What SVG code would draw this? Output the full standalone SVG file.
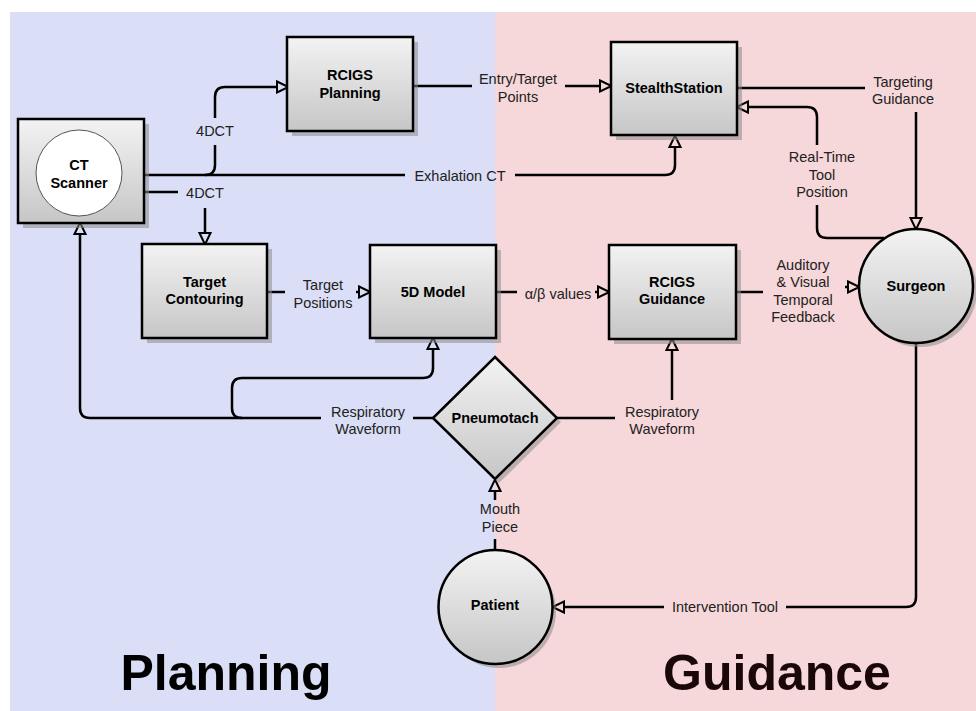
<svg xmlns="http://www.w3.org/2000/svg" width="976" height="711" viewBox="0 0 976 711">
<defs>
<linearGradient id="g" x1="0" y1="0" x2="0" y2="1">
<stop offset="0" stop-color="#f3f3f3"/>
<stop offset="1" stop-color="#c6c6c6"/>
</linearGradient>
<marker id="ah" markerUnits="userSpaceOnUse" markerWidth="15" markerHeight="14" viewBox="0 0 15 14" refX="1" refY="7" orient="auto">
<path d="M1,1.5 L12.5,7 L1,12.5 Z" fill="none" stroke="#000" stroke-width="2"/>
</marker>
</defs>
<style>
.box{fill:url(#g);stroke:#000;stroke-width:2.5}
.sh{fill:#8c8c8c;opacity:0.55}
.nt{font-family:"Liberation Sans",Arial,sans-serif;font-size:14.5px;font-weight:bold;fill:#000;text-anchor:middle}
.lt{font-family:"Liberation Sans",Arial,sans-serif;font-size:14.5px;fill:#222;text-anchor:middle}
.big{font-family:"Liberation Sans",Arial,sans-serif;font-size:50px;font-weight:bold;text-anchor:middle}
.c{fill:none;stroke:#000;stroke-width:2.5}
.a{marker-end:url(#ah)}
</style>
<rect x="0" y="0" width="976" height="711" fill="#fff"/>
<rect x="10" y="12" width="485" height="699" fill="#dadef6"/>
<rect x="495" y="12" width="481" height="699" fill="#f6d7da"/>
<text class="big" x="226" y="690" fill="#000">Planning</text>
<text class="big" x="777" y="690" fill="#1a0808">Guidance</text>

<g id="connectors">
<path class="c" d="M144,175 L405,175"/>
<path class="c a" d="M515,175 L665,175 Q675,175 675,165 L675,147"/>
<path class="c" d="M205,175 Q215,175 215,165 L215,145"/>
<path class="c a" d="M215,118 L215,97 Q215,87 225,87 L277,87"/>
<path class="c" d="M144,192 L178,192"/>
<path class="c a" d="M205,208 L205,233"/>
<path class="c" d="M413,86 L472,86"/>
<path class="c a" d="M565,86 L600,86"/>
<path class="c" d="M737,88 L865,88"/>
<path class="c a" d="M916,112 L916,218"/>
<path class="c" d="M884,238 L827,238 Q817,238 817,228 L817,205"/>
<path class="c a" d="M817,145 L817,117 Q817,107 807,107 L748,107"/>
<path class="c" d="M267,292 L285,292"/>
<path class="c a" d="M356,292 L359,292"/>
<path class="c" d="M496,292 L517,292"/>
<path class="c a" d="M595,292 L598,292"/>
<path class="c" d="M736,292 L763,292"/>
<path class="c a" d="M845,287 L848,287"/>
<path class="c" d="M557,418 L615,418"/>
<path class="c a" d="M672,400 L672,350"/>
<path class="c" d="M413,418 L433,418"/>
<path class="c a" d="M321,418 L90,418 Q80,418 80,408 L80,234"/>
<path class="c a" d="M242,418 Q232,418 232,408 L232,388 Q232,378 242,378 L423,378 Q433,378 433,368 L433,349"/>
<path class="c" d="M495,550 L495,539"/>
<path class="c a" d="M495,500 L495,491"/>
<path class="c" d="M916,343 L916,597 Q916,607 906,607 L786,607"/>
<path class="c a" d="M664,607 L564,607"/>
<text class="lt" x="215" y="136">4DCT</text>
<text class="lt" x="205" y="198">4DCT</text>
<text class="lt" x="460" y="181">Exhalation CT</text>
<text class="lt" x="518" y="84">Entry/Target</text>
<text class="lt" x="518" y="102">Points</text>
<text class="lt" x="903" y="87">Targeting</text>
<text class="lt" x="903" y="104">Guidance</text>
<text class="lt" x="822" y="162">Real-Time</text>
<text class="lt" x="822" y="180">Tool</text>
<text class="lt" x="822" y="197">Position</text>
<text class="lt" x="323" y="290">Target</text>
<text class="lt" x="323" y="308">Positions</text>
<text class="lt" x="558" y="299">α/β values</text>
<text class="lt" x="803" y="270">Auditory</text>
<text class="lt" x="803" y="287">&amp; Visual</text>
<text class="lt" x="803" y="305">Temporal</text>
<text class="lt" x="803" y="322">Feedback</text>
<text class="lt" x="662" y="417">Respiratory</text>
<text class="lt" x="662" y="434">Waveform</text>
<text class="lt" x="368" y="417">Respiratory</text>
<text class="lt" x="368" y="434">Waveform</text>
<text class="lt" x="500" y="514">Mouth</text>
<text class="lt" x="500" y="532">Piece</text>
<text class="lt" x="725" y="612">Intervention Tool</text>
</g>

<g id="ct-scanner">
<rect class="sh" x="23" y="124" width="126" height="104"/>
<rect class="box" x="18" y="119" width="126" height="104"/>
<circle cx="79" cy="173" r="43" fill="#fff" stroke="#555" stroke-width="1"/>
<text class="nt" x="79" y="170">CT</text>
<text class="nt" x="79" y="188">Scanner</text>
</g>
<g id="rcigs-planning">
<rect class="sh" x="292" y="42" width="126" height="94"/>
<rect class="box" x="287" y="37" width="126" height="94"/>
<text class="nt" x="350" y="80">RCIGS</text>
<text class="nt" x="350" y="98">Planning</text>
</g>
<g id="stealthstation">
<rect class="sh" x="616" y="47" width="126" height="93"/>
<rect class="box" x="611" y="42" width="126" height="93"/>
<text class="nt" x="674" y="93">StealthStation</text>
</g>
<g id="target-contouring">
<rect class="sh" x="147" y="249" width="125" height="94"/>
<rect class="box" x="142" y="244" width="125" height="94"/>
<text class="nt" x="204.5" y="287">Target</text>
<text class="nt" x="204.5" y="304">Contouring</text>
</g>
<g id="model-5d">
<rect class="sh" x="375" y="250" width="126" height="93"/>
<rect class="box" x="370" y="245" width="126" height="93"/>
<text class="nt" x="433" y="297">5D Model</text>
</g>
<g id="rcigs-guidance">
<rect class="sh" x="614" y="250" width="127" height="94"/>
<rect class="box" x="609" y="245" width="127" height="94"/>
<text class="nt" x="672" y="287">RCIGS</text>
<text class="nt" x="672" y="304">Guidance</text>
</g>
<g id="surgeon">
<circle class="sh" cx="920" cy="290" r="57"/>
<circle class="box" cx="916" cy="286" r="57"/>
<text class="nt" x="916" y="291">Surgeon</text>
</g>
<g id="pneumotach">
<polygon class="sh" points="499,361 561,422 499,483 437,422"/>
<polygon class="box" points="495,357 557,418 495,479 433,418"/>
<text class="nt" x="495" y="423">Pneumotach</text>
</g>
<g id="patient">
<circle class="sh" cx="499" cy="611" r="57"/>
<circle class="box" cx="495.5" cy="607" r="57"/>
<text class="nt" x="495" y="610">Patient</text>
</g>
</svg>
